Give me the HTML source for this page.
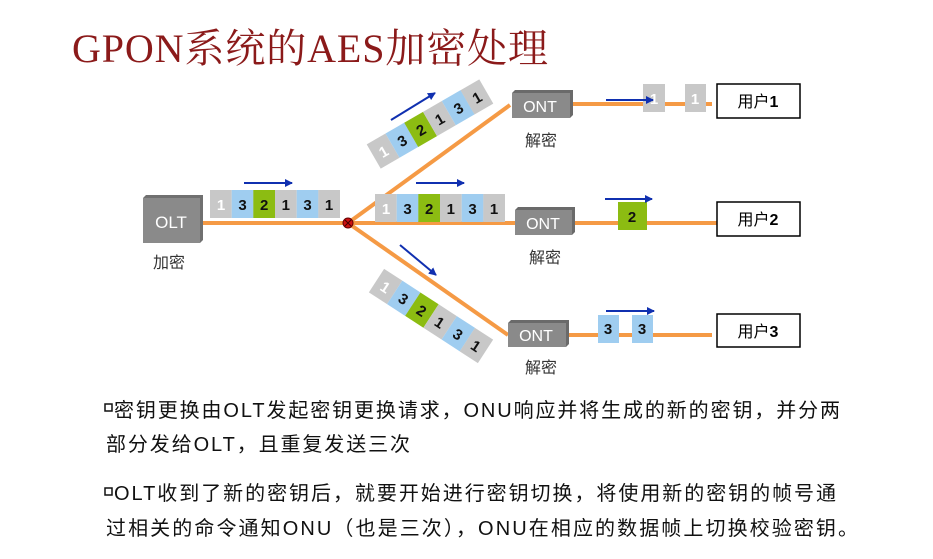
<!DOCTYPE html>
<html><head><meta charset="utf-8"><style>
body{margin:0;background:#fff;width:933px;height:559px;overflow:hidden}
svg{display:block}
.t{font-family:"Liberation Sans","Noto Sans CJK SC",sans-serif}
</style></head><body>
<svg width="933" height="559" viewBox="0 0 933 559" xmlns="http://www.w3.org/2000/svg">
<defs>
<marker id="ar" markerWidth="8" markerHeight="8" refX="7" refY="4" orient="auto" markerUnits="userSpaceOnUse"><path d="M0,0 L8,4 L0,8z" fill="#1030b0"/></marker>
<g id="strip">
<rect x="-65" y="-14" width="21.7" height="28" fill="#c8c8c8"/>
<rect x="-43.3" y="-14" width="21.7" height="28" fill="#9fcdf0"/>
<rect x="-21.7" y="-14" width="21.7" height="28" fill="#8cbc12"/>
<rect x="0" y="-14" width="21.7" height="28" fill="#c8c8c8"/>
<rect x="21.7" y="-14" width="21.7" height="28" fill="#9fcdf0"/>
<rect x="43.3" y="-14" width="21.7" height="28" fill="#c8c8c8"/>
<g class="t" font-size="15" font-weight="bold" text-anchor="middle" fill="#111">
<text x="-54" y="6" fill="#fff">1</text><text x="-32.5" y="6">3</text><text x="-10.8" y="6">2</text><text x="10.8" y="6">1</text><text x="32.5" y="6">3</text><text x="54" y="6">1</text>
</g>
</g>
</defs>
<text x="72" y="62" font-family="'Liberation Serif','Noto Serif CJK SC',serif" font-size="40" fill="#8b1a1a" textLength="476">GPON系统的AES加密处理</text>

<g stroke="#f59a45" stroke-width="4" fill="none">
<line x1="200" y1="223" x2="516" y2="223"/>
<line x1="348" y1="223" x2="510" y2="105"/>
<line x1="348" y1="223" x2="508" y2="335"/>
<line x1="570" y1="104" x2="712" y2="104"/>
<line x1="572" y1="223" x2="717" y2="223"/>
<line x1="566" y1="335" x2="712" y2="335"/>
</g>
<circle cx="348" cy="223" r="5" fill="#cc1111" stroke="#600" stroke-width="1"/>
<path d="M345,220 L351,226 M351,220 L345,226" stroke="#400" stroke-width="1"/>

<path d="M146,195 L203,195 L203,240 L200,243 L143,243 L143,198z" fill="#707070"/>
<rect x="143" y="198" width="57" height="45" fill="#8a8a8a"/>
<text x="171" y="228" class="t" font-size="17" fill="#fff" text-anchor="middle">OLT</text>
<text x="169" y="268" class="t" font-size="16" fill="#333" text-anchor="middle">加密</text>

<g class="t" font-size="16" fill="#fff" text-anchor="middle">
<path d="M515,90 L573,90 L573,115 L570,118 L512,118 L512,93z" fill="#6a6a6a"/><rect x="512" y="93" width="58" height="25" fill="#8a8a8a"/><text x="540" y="112">ONT</text>
<path d="M518,207 L575,207 L575,232 L572,235 L515,235 L515,210z" fill="#6a6a6a"/><rect x="515" y="210" width="57" height="25" fill="#8a8a8a"/><text x="543" y="229">ONT</text>
<path d="M511,320 L569,320 L569,344 L566,347 L508,347 L508,323z" fill="#6a6a6a"/><rect x="508" y="323" width="58" height="24" fill="#8a8a8a"/><text x="536" y="341">ONT</text>
</g>
<g class="t" font-size="16" fill="#333" text-anchor="middle">
<text x="541" y="146">解密</text><text x="545" y="263">解密</text><text x="541" y="373">解密</text>
</g>

<use href="#strip" transform="translate(275,204)"/>
<use href="#strip" transform="translate(440,208)"/>
<use href="#strip" transform="translate(430,124) rotate(-30)"/>
<use href="#strip" transform="translate(431,316) rotate(33)"/>

<g stroke="#1030b0" stroke-width="2" marker-end="url(#ar)">
<line x1="244" y1="183" x2="292" y2="183"/>
<line x1="416" y1="183" x2="464" y2="183"/>
<line x1="391" y1="120" x2="435" y2="93"/>
<line x1="400" y1="245" x2="436" y2="275"/>
</g>

<rect x="643" y="84" width="22" height="28" fill="#c8c8c8"/>
<rect x="685" y="84" width="21" height="28" fill="#c8c8c8"/>
<g class="t" font-size="15" font-weight="bold" text-anchor="middle" fill="#fff"><text x="654" y="104">1</text><text x="695" y="104">1</text></g>
<line x1="606" y1="100" x2="653" y2="100" stroke="#1030b0" stroke-width="2" marker-end="url(#ar)"/>
<rect x="618" y="202" width="29" height="28" fill="#8cbc12"/>
<text x="632" y="222" class="t" font-size="15" font-weight="bold" text-anchor="middle" fill="#111">2</text>
<line x1="605" y1="199" x2="652" y2="199" stroke="#1030b0" stroke-width="2" marker-end="url(#ar)"/>
<rect x="598" y="315" width="21" height="28" fill="#9fcdf0"/>
<rect x="632" y="315" width="21" height="28" fill="#9fcdf0"/>
<g class="t" font-size="15" font-weight="bold" text-anchor="middle" fill="#111"><text x="608" y="334">3</text><text x="642" y="334">3</text></g>
<line x1="606" y1="311" x2="654" y2="311" stroke="#1030b0" stroke-width="2" marker-end="url(#ar)"/>

<g fill="#fff" stroke="#000" stroke-width="1.5">
<rect x="717" y="84" width="83" height="34"/><rect x="717" y="202" width="83" height="34"/><rect x="717" y="314" width="83" height="33"/>
</g>
<g class="t" font-size="16" fill="#000" text-anchor="middle">
<text x="758" y="107">用户<tspan font-weight="bold">1</tspan></text>
<text x="758" y="225">用户<tspan font-weight="bold">2</tspan></text>
<text x="758" y="337">用户<tspan font-weight="bold">3</tspan></text>
</g>

<g class="t" font-size="20" fill="#111">
<rect x="105" y="404" width="7" height="7" fill="none" stroke="#111" stroke-width="1.5"/>
<text x="114" y="417" textLength="726">密钥更换由OLT发起密钥更换请求，ONU响应并将生成的新的密钥，并分两</text>
<text x="106" y="451" textLength="304">部分发给OLT，且重复发送三次</text>
<rect x="105" y="488" width="7" height="7" fill="none" stroke="#111" stroke-width="1.5"/>
<text x="114" y="500" textLength="722">OLT收到了新的密钥后，就要开始进行密钥切换，将使用新的密钥的帧号通</text>
<text x="106" y="535" textLength="752">过相关的命令通知ONU（也是三次），ONU在相应的数据帧上切换校验密钥。</text>
</g>
</svg>
</body></html>
